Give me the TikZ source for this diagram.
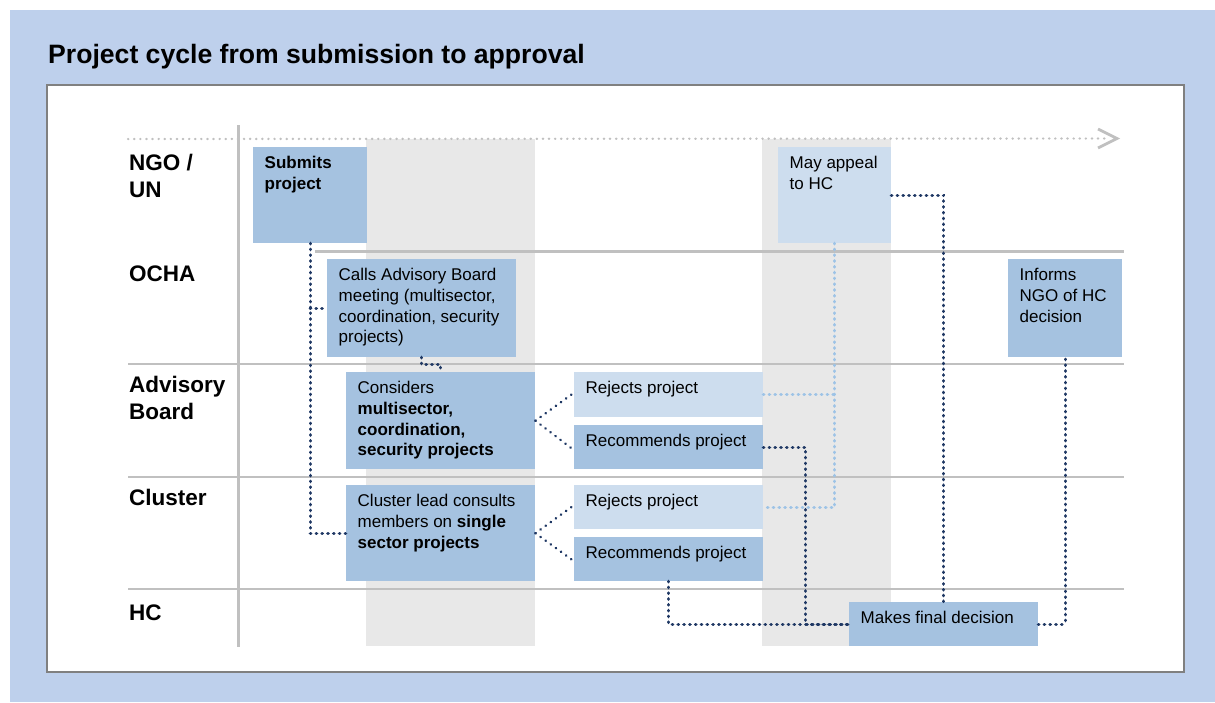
\documentclass[tikz,border=0pt]{standalone}
\usepackage{fontspec}
\setmainfont{Liberation Sans}
\usetikzlibrary{calc}

\definecolor{frameblue}{RGB}{190,208,236}
\definecolor{boxmid}{RGB}{165,194,224}
\definecolor{boxlight}{RGB}{205,221,238}
\definecolor{bandgray}{RGB}{232,232,232}
\definecolor{rulegray}{RGB}{192,192,192}
\definecolor{panelgray}{RGB}{128,128,128}
\definecolor{dotdark}{RGB}{31,56,100}
\definecolor{dotlight}{RGB}{157,195,230}

% stage box: fixed width/height, text set from the top-left corner
\newcommand{\stagetext}[3]{\parbox[c][#2pt][t]{#1pt}{\raggedright\rule{0pt}{21.5pt}#3}}

\begin{document}
\begin{tikzpicture}[x=1pt,y=-1pt,
  stage/.style={rectangle, fill=boxmid, inner xsep=11.5pt, inner ysep=0pt,
    anchor=north west, font=\fontsize{17}{20.7}\selectfont},
  stagelight/.style={stage, fill=boxlight},
  lane/.style={anchor=base west, inner sep=0pt, font=\bfseries\fontsize{22.5}{27}\selectfont},
  dk/.style={draw=dotdark, line width=3.4pt, line cap=round, dash pattern=on 0.4pt off 5.4pt},
  lt/.style={draw=dotlight, line width=3.4pt, line cap=round, dash pattern=on 0.4pt off 5.4pt},
  fan/.style={draw=dotdark, line width=2.6pt, line cap=round, dash pattern=on 0.3pt off 6pt},
  timeline/.style={draw=rulegray, line width=2.4pt, line cap=round, dash pattern=on 0.3pt off 5.8pt},
  chev/.style={draw=rulegray, line width=2.8pt, line join=miter},
  laneline/.style={draw=rulegray, line width=2.8pt},
]
\useasboundingbox (0,0) rectangle (1215,702);

% frame and title
\fill[frameblue] (10,10) rectangle (1215,702);
\node[anchor=base west, inner sep=0pt, font=\bfseries\fontsize{26.6}{31}\selectfont] (title) at (48,63)
  {Project cycle from submission to approval};
\draw[fill=white, draw=panelgray, line width=2pt] (47,85) rectangle (1184,672);

% shaded time bands
\fill[bandgray] (366,139) rectangle (535,646);
\fill[bandgray] (762,139) rectangle (891,646);

% time axis
\coordinate (tl0) at (128,139);
\coordinate (tl1) at (1117,138.5);
\draw[timeline] (tl0) -- ([xshift=-9pt]tl1);
\draw[chev] ([shift={(-19,-9.5)}]tl1) -- (tl1) -- ([shift={(-19,9.5)}]tl1);

% lane separators
\draw[laneline, line width=3pt] (238,125) -- (238,647);
\draw[laneline] (315,251.5) -- (1124,251.5);
\draw[laneline] (128,364) -- (1124,364);
\draw[laneline] (128,477) -- (1124,477);
\draw[laneline] (128,589) -- (1124,589);

% lane labels
\node[lane] (lngo) at (129,170) {\parbox[t]{100pt}{NGO /\\UN}};
\node[lane] (locha) at (129,281) {OCHA};
\node[lane] (lab) at (129,392.5) {\parbox[t]{100pt}{Advisory\\Board}};
\node[lane] (lcl) at (129,505) {Cluster};
\node[lane] (lhc) at (129,620) {HC};

% stages
\node[stage] (submit) at (253,147) {\stagetext{91}{96}{\textbf{Submits}\\\textbf{project}}};
\node[stage] (calls) at (327,259) {\stagetext{166}{98}{Calls Advisory Board\\meeting (multisector,\\coordination, security\\projects)}};
\node[stage] (considers) at (346,372) {\stagetext{166}{97}{Considers\\\textbf{multisector,}\\\textbf{coordination,}\\\textbf{security projects}}};
\node[stagelight] (rejab) at (574,372) {\stagetext{166}{45}{Rejects project}};
\node[stage] (recab) at (574,425) {\stagetext{166}{44}{Recommends project}};
\node[stage] (cluster) at (346,485) {\stagetext{166}{96}{Cluster lead consults\\members on \textbf{single}\\\textbf{sector projects}}};
\node[stagelight] (rejcl) at (574,485) {\stagetext{166}{44}{Rejects project}};
\node[stage] (reccl) at (574,537) {\stagetext{166}{44}{Recommends project}};
\node[stagelight] (appeal) at (778,147) {\stagetext{90}{96}{May appeal\\to HC}};
\node[stage] (informs) at (1008,259) {\stagetext{91}{98}{Informs\\NGO of HC\\decision}};
\node[stage] (final) at (849,602) {\stagetext{166}{44}{Makes final decision}};

% flow
\draw[dk] (submit.south) |- (cluster.west);
\draw[dk] (submit.south |- calls.west) -- (calls.west);
\coordinate (cmid) at ($(calls.south)!0.5!(considers.north)$);
\draw[dk] (calls.south) |- (cmid) -| (considers.north);
\draw[fan, shorten >=3pt] (considers.east) -- ([yshift=2pt]rejab.west);
\draw[fan, shorten >=3pt] (considers.east) -- ([yshift=-3pt]recab.west);
\draw[fan, shorten >=3pt] (cluster.east) -- ([yshift=2pt]rejcl.west);
\draw[fan, shorten >=3pt] (cluster.east) -- ([yshift=-2pt]reccl.west);
\draw[lt] (appeal.south) |- (rejcl.east);
\draw[lt] (rejab.east) -- (appeal.south |- rejab.east);
\draw[dk] (recab.east) -- ++(42,0) |- (final.west);
\draw[dk] (reccl.south) |- (final.west);
\draw[dk] (appeal.east) -| (final.north);
\draw[dk, rounded corners=3pt] (final.east) -| (informs.south);
\end{tikzpicture}
\end{document}
